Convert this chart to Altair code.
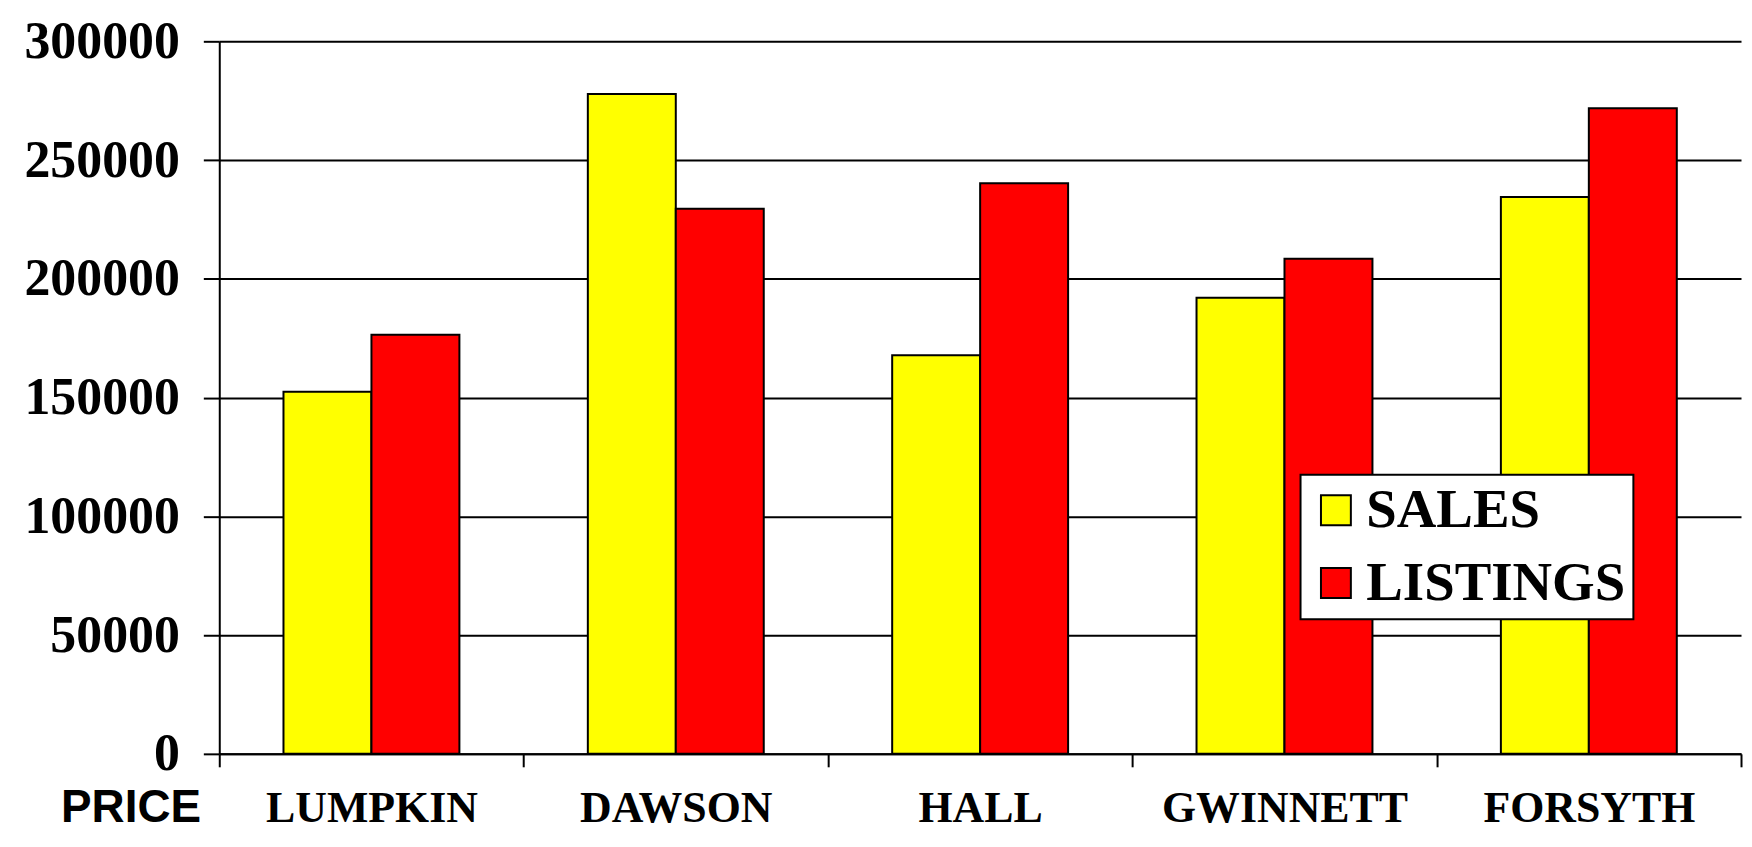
import altair as alt
import pandas as pd

counties = ["LUMPKIN", "DAWSON", "HALL", "GWINNETT", "FORSYTH"]
sales = [152500, 277800, 167800, 192000, 234500]
listings = [176500, 229500, 240200, 208500, 271800]
series = ["SALES", "LISTINGS"]
colors = ["#FFFF00", "#FF0000"]
y_ticks = [0, 50000, 100000, 150000, 200000, 250000, 300000]

rows = []
for c, s, l in zip(counties, sales, listings):
    rows.append({"county": c, "series": "SALES", "price": s})
    rows.append({"county": c, "series": "LISTINGS", "price": l})
df = pd.DataFrame(rows)

serif = "Liberation Serif"

chart = alt.Chart(df).mark_bar(stroke="black", strokeWidth=2).encode(
    x=alt.X(
        "county:N",
        sort=counties,
        scale=alt.Scale(paddingInner=0, paddingOuter=0),
        axis=alt.Axis(
            title="PRICE",
            titleFont="Liberation Sans",
            titleFontSize=46,
            titleFontWeight="bold",
            titleColor="black",
            titleX=-89,
            titleY=54,
            titleAlign="center",
            titleBaseline="middle",
            titleAngle=0,
            labelFont=serif,
            labelFontSize=44,
            labelFontWeight="bold",
            labelColor="black",
            labelAngle=0,
            labelPadding=20,
            labelLimit=1000,
            tickBand="extent",
            tickSize=13,
            tickColor="black",
            tickWidth=2,
            domainColor="black",
            domainWidth=2,
            grid=False,
        ),
    ),
    xOffset=alt.XOffset(
        "series:N",
        sort=series,
        scale=alt.Scale(paddingInner=0, paddingOuter=0.73),
    ),
    y=alt.Y(
        "price:Q",
        scale=alt.Scale(domain=[0, 300000], nice=False),
        axis=alt.Axis(
            title=None,
            values=y_ticks,
            format="d",
            labelFont=serif,
            labelFontSize=52,
            labelFontWeight="bold",
            labelColor="black",
            labelPadding=24,
            tickSize=16,
            tickColor="black",
            tickWidth=2,
            domainColor="black",
            domainWidth=2,
            grid=True,
            gridColor="black",
            gridWidth=2,
            gridOpacity=1,
        ),
    ),
    color=alt.Color(
        "series:N",
        sort=series,
        scale=alt.Scale(domain=series, range=colors),
        legend=alt.Legend(
            title=None,
            orient="none",
            legendX=1085,
            legendY=435,
            direction="vertical",
            labelFont=serif,
            labelFontSize=55,
            labelFontWeight="bold",
            labelColor="black",
            labelOffset=3,
            labelLimit=1000,
            symbolType="square",
            symbolSize=900,
            symbolStrokeColor="black",
            symbolStrokeWidth=2,
            symbolOpacity=1,
            padding=8,
            strokeColor="black",
            fillColor="white",
            cornerRadius=0,
        ),
    ),
).properties(
    width=1527,
    height=715,
    autosize=alt.AutoSizeParams(type="none"),
    padding={"left": 212, "top": 32, "right": 3, "bottom": 78},
).configure_view(
    strokeOpacity=0
).configure_legend(
    rowPadding=17,
    strokeWidth=2,
)

chart.save("out.html", embed_options={"renderer": "svg", "actions": False})
